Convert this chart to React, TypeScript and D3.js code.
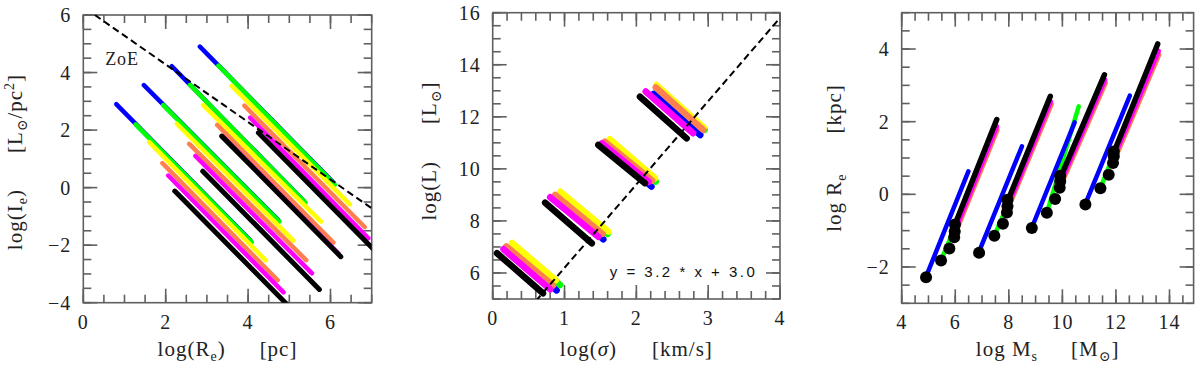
import React, { useEffect, useRef } from "react";
import * as d3 from "d3";

// colours used by the model sequences
const BLUE = "#0000ff";
const GREEN = "#00ff00";
const YELLOW = "#ffff00";
const ORANGE = "#ff7f50";
const MAGENTA = "#ff00ff";
const BLACK = "#000000";

// ---- panel 1: log(Ie) vs log(Re), one segment [x0, y0, x1, y1] per group
const p1Blue = [[0.80, 2.90, 4.06, -1.84], [1.47, 3.56, 4.73, -1.12], [2.15, 4.22, 5.35, -0.46], [2.83, 4.90, 6.08, 0.17]];
const p1Green = [[1.27, 2.20, 4.09, -1.90], [1.94, 2.87, 4.76, -1.18], [2.59, 3.57, 5.39, -0.52], [3.28, 4.24, 6.11, 0.10]];
const p1Yellow = [[1.60, 1.58, 4.43, -2.53], [2.27, 2.22, 5.10, -1.84], [2.91, 2.87, 5.77, -1.18], [3.60, 3.54, 6.47, -0.58]];
const p1Orange = [[1.92, 0.85, 4.72, -3.22], [2.57, 1.52, 5.41, -2.52], [3.25, 2.18, 6.07, -1.91], [3.91, 2.85, 6.83, -1.37]];
const p1Magenta = [[2.06, 0.42, 4.86, -3.64], [2.72, 1.10, 5.55, -2.98], [3.40, 1.76, 6.20, -2.30], [4.05, 2.43, 6.92, -1.76]];
const p1Black = [[2.22, -0.12, 4.94, -4.05], [2.90, 0.57, 5.73, -3.54], [3.36, 1.79, 6.25, -2.40], [4.25, 1.91, 7.05, -2.15]];
const p1ZoE = [[0.28, 6.0], [7.0, -0.72]];

// ---- panel 2: log(L) vs log(sigma)
const p2Green = [[0.28, 7.10, 0.94, 5.54], [0.95, 9.05, 1.60, 7.50], [1.62, 11.05, 2.27, 9.51], [2.28, 13.10, 2.95, 11.50]];
const p2Yellow = [[0.27, 7.15, 0.88, 5.72], [0.94, 9.12, 1.61, 7.59], [1.63, 11.14, 2.26, 9.64], [2.28, 13.22, 2.94, 11.58]];
const p2Blue = [[0.20, 6.95, 0.89, 5.33], [0.88, 8.95, 1.54, 7.29], [1.56, 10.95, 2.21, 9.32], [2.24, 12.88, 2.89, 11.30]];
const p2Orange = [[0.19, 7.02, 0.84, 5.52], [0.87, 9.00, 1.53, 7.50], [1.56, 11.04, 2.22, 9.55], [2.27, 13.13, 2.93, 11.50]];
const p2Magenta = [[0.15, 6.91, 0.80, 5.37], [0.80, 8.91, 1.47, 7.39], [1.52, 10.98, 2.17, 9.50], [2.13, 12.97, 2.79, 11.37]];
const p2Black = [[0.06, 6.76, 0.70, 5.22], [0.73, 8.70, 1.38, 7.14], [1.47, 10.92, 2.12, 9.45], [2.05, 12.77, 2.70, 11.17]];
const fitSlope = 3.2;
const fitIntercept = 3.0;

// ---- panel 3: log Re vs log Ms
const p3Orange = [[6.05, -1.00, 7.58, 1.78], [8.00, -0.35, 9.60, 2.48], [9.98, 0.30, 11.62, 3.07], [11.98, 1.00, 13.62, 3.85]];
const p3Magenta = [[6.02, -0.95, 7.56, 1.87], [7.98, -0.30, 9.57, 2.55], [9.95, 0.35, 11.60, 3.15], [11.95, 1.05, 13.60, 3.95]];
const p3Green = [[5.47, -1.82, 5.96, -0.95], [7.46, -1.14, 7.95, -0.30], [9.42, -0.51, 10.61, 2.42], [11.42, 0.17, 11.92, 1.10]];
const p3Black = [[5.99, -0.83, 7.55, 2.06], [7.95, -0.20, 9.55, 2.70], [9.92, 0.45, 11.57, 3.29], [11.92, 1.15, 13.56, 4.14]];
const p3Blue = [[4.94, -2.21, 6.49, 0.63], [6.93, -1.50, 8.49, 1.32], [8.93, -0.79, 10.46, 1.98], [10.92, -0.15, 12.52, 2.72]];
const p3DotX = [4.91, 5.47, 5.78, 5.96, 5.98, 5.99, 6.89, 7.46, 7.78, 7.93, 7.95, 7.95,
  8.86, 9.42, 9.73, 9.90, 9.92, 9.92, 10.86, 11.42, 11.73, 11.89, 11.92, 11.92];
const p3DotY = [-2.28, -1.82, -1.49, -1.18, -1.02, -0.83, -1.61, -1.14, -0.81, -0.50, -0.33, -0.15,
  -0.93, -0.51, -0.13, 0.18, 0.36, 0.51, -0.28, 0.17, 0.54, 0.86, 1.05, 1.18];

const SERIF = "'Liberation Serif', 'DejaVu Serif', serif";
const FRAME = "#606060";

type Part = { t: string; sub?: boolean; sup?: boolean; it?: boolean; dx?: number };

// write a label made of plain / subscript / superscript pieces
function richText(sel: any, parts: Part[]) {
  parts.forEach((p) => {
    const ts = sel.append("tspan").text(p.t);
    if (p.dx) ts.attr("dx", p.dx);
    if (p.sub) ts.attr("font-size", 14).attr("baseline-shift", -5);
    if (p.sup) ts.attr("font-size", 14).attr("baseline-shift", 8);
    if (p.it) ts.attr("font-style", "italic");
  });
}

// tick values for a domain, multiples of step
function steps(dom: number[], step: number) {
  const n0 = Math.ceil(dom[0] / step - 1e-6);
  const n1 = Math.floor(dom[1] / step + 1e-6);
  return d3.range(n0, n1 + 1).map((k) => +(k * step).toFixed(4));
}

function drawPanel(root: any, cfg: any) {
  const x = d3.scaleLinear().domain(cfg.xDom).range([cfg.left, cfg.right]);
  const y = d3.scaleLinear().domain(cfg.yDom).range([cfg.bottom, cfg.top]);

  root.append("clipPath").attr("id", "clip" + cfg.id)
    .append("rect")
    .attr("x", cfg.left).attr("y", cfg.top)
    .attr("width", cfg.right - cfg.left).attr("height", cfg.bottom - cfg.top);

  const xMajor = steps(cfg.xDom, cfg.xMaj);
  const yMajor = steps(cfg.yDom, cfg.yMaj);

  // ticks on all four sides, pointing inward
  const xTicks = [...steps(cfg.xDom, cfg.xMin).map((v) => [v, 8]), ...xMajor.map((v) => [v, 14])];
  const yTicks = [...steps(cfg.yDom, cfg.yMin).map((v) => [v, 8]), ...yMajor.map((v) => [v, 14])];
  [cfg.bottom, cfg.top].forEach((edge: number, k: number) => {
    root.append("g").selectAll("line")
      .data(xTicks)
      .join("line")
      .attr("x1", (d: number[]) => x(d[0])).attr("x2", (d: number[]) => x(d[0]))
      .attr("y1", edge).attr("y2", (d: number[]) => (k === 0 ? edge - d[1] : edge + d[1]))
      .attr("stroke", FRAME).attr("stroke-width", 1.6);
  });
  [cfg.left, cfg.right].forEach((edge: number, k: number) => {
    root.append("g").selectAll("line")
      .data(yTicks)
      .join("line")
      .attr("y1", (d: number[]) => y(d[0])).attr("y2", (d: number[]) => y(d[0]))
      .attr("x1", edge).attr("x2", (d: number[]) => (k === 0 ? edge + d[1] : edge - d[1]))
      .attr("stroke", FRAME).attr("stroke-width", 1.6);
  });

  const fmt = d3.format("d");
  root.append("g").selectAll("text")
    .data(xMajor)
    .join("text")
    .attr("x", (d: number) => x(d))
    .attr("y", cfg.bottom + 26)
    .attr("text-anchor", "middle")
    .attr("font-family", SERIF).attr("font-size", 20).attr("letter-spacing", 1).attr("fill", "#222")
    .text((d: number) => fmt(d));
  root.append("g").selectAll("text")
    .data(yMajor)
    .join("text")
    .attr("x", cfg.left - 12)
    .attr("y", (d: number) => y(d) + 7)
    .attr("text-anchor", "end")
    .attr("font-family", SERIF).attr("font-size", 20).attr("letter-spacing", 1).attr("fill", "#222")
    .text((d: number) => fmt(d));

  root.append("rect")
    .attr("x", cfg.left).attr("y", cfg.top)
    .attr("width", cfg.right - cfg.left).attr("height", cfg.bottom - cfg.top)
    .attr("fill", "none").attr("stroke", FRAME).attr("stroke-width", 1.6);

  // axis titles
  root.append("text")
    .attr("x", (cfg.left + cfg.right) / 2).attr("y", 356)
    .attr("text-anchor", "middle").attr("font-family", SERIF).attr("font-size", 21)
    .attr("letter-spacing", 1).attr("fill", "#222")
    .call((t: any) => richText(t, cfg.xLabel));
  root.append("text")
    .attr("transform", `translate(${cfg.yLabelX},${cfg.yLabelY}) rotate(-90)`)
    .attr("text-anchor", "middle").attr("font-family", SERIF).attr("font-size", 21)
    .attr("letter-spacing", 1).attr("fill", "#222")
    .call((t: any) => richText(t, cfg.yLabel));

  const plot = root.append("g").attr("clip-path", `url(#clip${cfg.id})`);
  return { x, y, plot };
}

function segments(plot: any, x: any, y: any, data: number[][], color: string, width: number) {
  const line = d3.line<number[]>().x((d) => x(d[0])).y((d) => y(d[1]));
  plot.append("g").selectAll("path")
    .data(data)
    .join("path")
    .attr("d", (d: number[]) => line([[d[0], d[1]], [d[2], d[3]]]))
    .attr("fill", "none")
    .attr("stroke", color)
    .attr("stroke-width", width)
    .attr("stroke-linecap", "round");
}

const App = () => {
  const svgRef = useRef<SVGSVGElement | null>(null);

  useEffect(() => {
    document.body.style.margin = "0";
    const svg = d3.select(svgRef.current);
    svg.selectAll("*").remove();

    // ---------- panel 1
    const a = drawPanel(svg, {
      id: 1, left: 83.3, right: 371.7, top: 15, bottom: 302.7,
      xDom: [0, 7], yDom: [-4, 6], xMaj: 2, xMin: 0.5, yMaj: 2, yMin: 0.5,
      xLabel: [{ t: "log(R" }, { t: "e", sub: true }, { t: ")" }, { t: "[pc]", dx: 34 }],
      yLabel: [{ t: "log(I" }, { t: "e", sub: true }, { t: ")" }, { t: "[L", dx: 36 }, { t: "⊙", sub: true },
        { t: "/pc" }, { t: "2", sup: true }, { t: "]" }],
      yLabelX: 22, yLabelY: 162,
    });
    segments(a.plot, a.x, a.y, p1Blue, BLUE, 4.5);
    segments(a.plot, a.x, a.y, p1Green, GREEN, 4.5);
    segments(a.plot, a.x, a.y, p1Yellow, YELLOW, 4.5);
    segments(a.plot, a.x, a.y, p1Orange, ORANGE, 4.5);
    segments(a.plot, a.x, a.y, p1Magenta, MAGENTA, 4.5);
    segments(a.plot, a.x, a.y, p1Black, BLACK, 5);
    a.plot.append("path")
      .attr("d", d3.line<number[]>().x((d) => a.x(d[0])).y((d) => a.y(d[1]))(p1ZoE))
      .attr("fill", "none").attr("stroke", "#000").attr("stroke-width", 2)
      .attr("stroke-dasharray", "7,4");
    svg.append("text")
      .attr("x", a.x(0.53)).attr("y", a.y(4.27))
      .attr("font-family", SERIF).attr("font-size", 18).attr("letter-spacing", 1)
      .attr("fill", "#222").text("ZoE");

    // ---------- panel 2
    const b = drawPanel(svg, {
      id: 2, left: 492.7, right: 780, top: 12.7, bottom: 299,
      xDom: [0, 4], yDom: [5, 16], xMaj: 1, xMin: 0.2, yMaj: 2, yMin: 0.5,
      xLabel: [{ t: "log(" }, { t: "σ", it: true }, { t: ")" }, { t: "[km/s]", dx: 35 }],
      yLabel: [{ t: "log(L)" }, { t: "[L", dx: 37 }, { t: "⊙", sub: true }, { t: "]" }],
      yLabelX: 436, yLabelY: 151,
    });
    segments(b.plot, b.x, b.y, p2Green, GREEN, 6.5);
    segments(b.plot, b.x, b.y, p2Yellow, YELLOW, 6.5);
    segments(b.plot, b.x, b.y, p2Blue, BLUE, 6.5);
    segments(b.plot, b.x, b.y, p2Orange, ORANGE, 6.5);
    segments(b.plot, b.x, b.y, p2Magenta, MAGENTA, 6.5);
    segments(b.plot, b.x, b.y, p2Black, BLACK, 6.5);
    const fitX = b.x.domain();
    b.plot.append("path")
      .attr("d", d3.line<number>().x((d) => b.x(d)).y((d) => b.y(fitSlope * d + fitIntercept))(fitX))
      .attr("fill", "none").attr("stroke", "#000").attr("stroke-width", 2)
      .attr("stroke-dasharray", "7,4");
    svg.append("text")
      .attr("x", b.x(1.63)).attr("y", b.y(5.83))
      .attr("font-family", "'Liberation Sans', Arial, sans-serif").attr("font-size", 15)
      .attr("letter-spacing", 2.5).attr("fill", "#111")
      .text(`y = ${fitSlope.toFixed(1)} * x + ${fitIntercept.toFixed(1)}`);

    // ---------- panel 3
    const c = drawPanel(svg, {
      id: 3, left: 901.7, right: 1193.6, top: 12.7, bottom: 303.3,
      xDom: [4, 14.9], yDom: [-3, 5], xMaj: 2, xMin: 0.5, yMaj: 2, yMin: 0.5,
      xLabel: [{ t: "log  M" }, { t: "s", sub: true }, { t: "[M", dx: 33 }, { t: "⊙", sub: true }, { t: "]" }],
      yLabel: [{ t: "log  R" }, { t: "e", sub: true }, { t: "[kpc]", dx: 40 }],
      yLabelX: 841, yLabelY: 158,
    });
    segments(c.plot, c.x, c.y, p3Orange, ORANGE, 4.5);
    segments(c.plot, c.x, c.y, p3Magenta, MAGENTA, 4.5);
    segments(c.plot, c.x, c.y, p3Green, GREEN, 4.5);
    segments(c.plot, c.x, c.y, p3Black, BLACK, 5.5);
    segments(c.plot, c.x, c.y, p3Blue, BLUE, 4.5);
    c.plot.append("g").selectAll("circle")
      .data(p3DotX)
      .join("circle")
      .attr("cx", (d: number) => c.x(d))
      .attr("cy", (_d: number, i: number) => c.y(p3DotY[i]))
      .attr("r", 6)
      .attr("fill", "#000");
  }, []);

  return <svg ref={svgRef} width={1200} height={371} style={{ display: "block" }} />;
};

export default App;
